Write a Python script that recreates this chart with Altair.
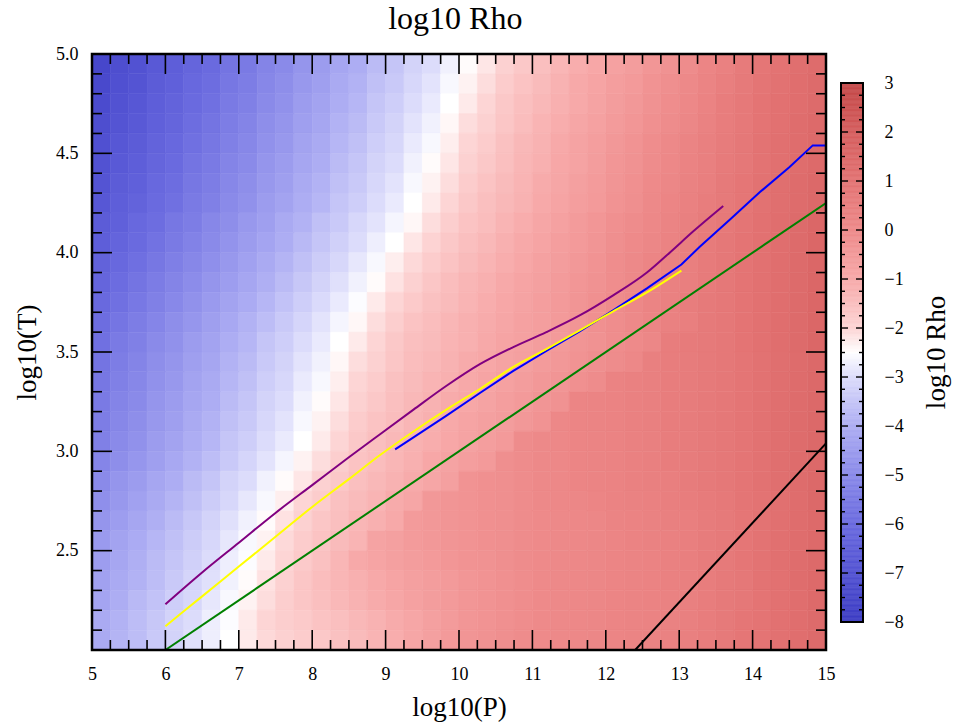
import altair as alt
import numpy as np
import pandas as pd

# ---------------------------------------------------------------------------
# log10 Rho on a (log10 P, log10 T) grid.
# Columns: log10(P) cells 0.25 wide, centred at 5.125 ... 14.875
# Rows: log10(T) cells 0.1 tall, one list per row centre (4.95 ... 2.05).
# ---------------------------------------------------------------------------
RHO_T495 = [-7.5, -7.2, -7.0, -6.7, -6.5, -6.2, -6.0, -5.7, -5.5, -5.2,
            -5.0, -4.7, -4.5, -4.2, -4.0, -3.7, -3.5, -3.2, -3.0, -2.7,
            -2.45, -2.2, -1.9, -1.7, -1.5, -1.3, -1.1, -0.95, -0.75, -0.6,
            -0.4, -0.25, -0.05, 0.2, 0.4, 0.65, 0.85, 1.0, 1.2, 1.35]
RHO_T485 = [-7.4, -7.1, -6.9, -6.6, -6.4, -6.1, -5.9, -5.6, -5.4, -5.1,
            -4.9, -4.6, -4.4, -4.1, -3.9, -3.6, -3.4, -3.1, -2.9, -2.6,
            -2.35, -2.1, -1.8, -1.6, -1.4, -1.2, -1.0, -0.85, -0.65, -0.5,
            -0.3, -0.15, 0.05, 0.25, 0.5, 0.7, 0.9, 1.05, 1.25, 1.4]
RHO_T475 = [-7.3, -7.0, -6.8, -6.5, -6.3, -6.0, -5.8, -5.5, -5.3, -5.0,
            -4.8, -4.5, -4.3, -4.0, -3.8, -3.5, -3.3, -3.0, -2.8, -2.5,
            -2.25, -2.0, -1.7, -1.5, -1.35, -1.15, -1.0, -0.8, -0.6, -0.45,
            -0.25, -0.1, 0.1, 0.3, 0.55, 0.75, 0.95, 1.1, 1.25, 1.4]
RHO_T465 = [-7.2, -6.9, -6.7, -6.4, -6.2, -5.9, -5.7, -5.4, -5.2, -4.9,
            -4.7, -4.4, -4.2, -3.9, -3.7, -3.4, -3.2, -2.9, -2.7, -2.4,
            -2.1, -1.9, -1.65, -1.45, -1.25, -1.1, -0.9, -0.75, -0.55, -0.4,
            -0.2, -0.05, 0.15, 0.35, 0.55, 0.75, 0.95, 1.1, 1.3, 1.45]
RHO_T455 = [-7.1, -6.8, -6.6, -6.3, -6.1, -5.8, -5.6, -5.3, -5.1, -4.8,
            -4.6, -4.3, -4.1, -3.8, -3.6, -3.3, -3.1, -2.8, -2.6, -2.3,
            -2.0, -1.8, -1.55, -1.35, -1.2, -1.0, -0.8, -0.65, -0.45, -0.3,
            -0.1, 0.05, 0.25, 0.45, 0.6, 0.8, 1.0, 1.15, 1.3, 1.45]
RHO_T445 = [-7.0, -6.7, -6.5, -6.2, -6.0, -5.7, -5.5, -5.2, -5.0, -4.7,
            -4.5, -4.2, -4.0, -3.7, -3.5, -3.2, -3.0, -2.7, -2.45, -2.2,
            -1.9, -1.7, -1.5, -1.3, -1.15, -0.95, -0.8, -0.6, -0.4, -0.25,
            -0.05, 0.1, 0.3, 0.45, 0.65, 0.8, 1.0, 1.15, 1.3, 1.45]
RHO_T435 = [-6.9, -6.6, -6.4, -6.1, -5.9, -5.6, -5.4, -5.1, -4.9, -4.6,
            -4.4, -4.1, -3.9, -3.6, -3.4, -3.1, -2.9, -2.6, -2.35, -2.1,
            -1.8, -1.6, -1.4, -1.25, -1.05, -0.9, -0.7, -0.55, -0.35, -0.2,
            0.0, 0.15, 0.35, 0.5, 0.7, 0.85, 1.05, 1.2, 1.35, 1.5]
RHO_T425 = [-6.8, -6.5, -6.3, -6.0, -5.8, -5.5, -5.3, -5.0, -4.8, -4.5,
            -4.3, -4.0, -3.8, -3.5, -3.3, -3.0, -2.8, -2.5, -2.25, -2.0,
            -1.7, -1.5, -1.35, -1.2, -1.0, -0.85, -0.65, -0.5, -0.3, -0.15,
            0.05, 0.2, 0.4, 0.55, 0.7, 0.85, 1.05, 1.2, 1.35, 1.5]
RHO_T415 = [-6.6, -6.4, -6.1, -5.9, -5.6, -5.4, -5.1, -4.9, -4.6, -4.4,
            -4.1, -3.9, -3.6, -3.4, -3.1, -2.9, -2.65, -2.4, -2.1, -1.85,
            -1.6, -1.45, -1.25, -1.1, -0.9, -0.75, -0.55, -0.4, -0.2, -0.05,
            0.1, 0.25, 0.45, 0.6, 0.75, 0.9, 1.1, 1.25, 1.4, 1.55]
RHO_T405 = [-6.5, -6.25, -6.0, -5.75, -5.5, -5.25, -5.0, -4.75, -4.5, -4.25,
            -4.0, -3.75, -3.5, -3.25, -3.0, -2.75, -2.5, -2.2, -1.95, -1.7,
            -1.5, -1.35, -1.15, -1.0, -0.85, -0.65, -0.5, -0.35, -0.15, 0.0,
            0.15, 0.3, 0.5, 0.65, 0.8, 0.95, 1.1, 1.25, 1.4, 1.55]
RHO_T395 = [-6.35, -6.1, -5.85, -5.6, -5.35, -5.1, -4.85, -4.6, -4.35, -4.1,
            -3.85, -3.6, -3.35, -3.1, -2.85, -2.6, -2.3, -2.05, -1.8, -1.6,
            -1.4, -1.25, -1.1, -0.95, -0.75, -0.6, -0.45, -0.3, -0.1, 0.05,
            0.2, 0.35, 0.5, 0.65, 0.8, 0.95, 1.1, 1.25, 1.4, 1.55]
RHO_T385 = [-6.2, -5.95, -5.7, -5.45, -5.2, -4.95, -4.7, -4.45, -4.2, -3.95,
            -3.7, -3.45, -3.2, -2.95, -2.7, -2.45, -2.15, -1.9, -1.65, -1.45,
            -1.3, -1.15, -1.0, -0.85, -0.7, -0.55, -0.4, -0.25, -0.1, 0.05,
            0.25, 0.4, 0.5, 0.65, 0.8, 0.95, 1.1, 1.25, 1.4, 1.55]
RHO_T375 = [-6.05, -5.8, -5.55, -5.3, -5.05, -4.8, -4.55, -4.3, -4.05, -3.8,
            -3.55, -3.3, -3.05, -2.8, -2.55, -2.25, -2.0, -1.75, -1.55, -1.4,
            -1.25, -1.1, -0.95, -0.8, -0.65, -0.5, -0.35, -0.2, -0.05, 0.1,
            0.25, 0.4, 0.55, 0.7, 0.8, 0.95, 1.1, 1.25, 1.4, 1.55]
RHO_T365 = [-5.9, -5.65, -5.4, -5.15, -4.9, -4.65, -4.4, -4.15, -3.9, -3.65,
            -3.4, -3.15, -2.9, -2.65, -2.4, -2.1, -1.85, -1.6, -1.45, -1.3,
            -1.15, -1.05, -0.9, -0.75, -0.65, -0.5, -0.35, -0.2, -0.1, 0.05,
            0.2, 0.4, 0.5, 0.7, 0.8, 0.95, 1.1, 1.25, 1.4, 1.55]
RHO_T355 = [-5.8, -5.5, -5.3, -5.0, -4.8, -4.5, -4.3, -4.0, -3.8, -3.5,
            -3.3, -3.0, -2.8, -2.5, -2.25, -2.0, -1.7, -1.5, -1.4, -1.25,
            -1.15, -1.0, -0.85, -0.75, -0.6, -0.5, -0.35, -0.25, -0.1, 0.0,
            0.15, 0.55, 0.65, 0.7, 0.8, 0.95, 1.1, 1.25, 1.4, 1.55]
RHO_T345 = [-5.7, -5.4, -5.2, -4.9, -4.7, -4.4, -4.2, -3.9, -3.7, -3.4,
            -3.2, -2.9, -2.7, -2.4, -2.1, -1.9, -1.65, -1.45, -1.35, -1.2,
            -1.05, -0.95, -0.8, -0.7, -0.55, -0.45, -0.3, -0.15, -0.05, 0.1,
            0.45, 0.55, 0.6, 0.7, 0.8, 0.9, 1.05, 1.2, 1.35, 1.5]
RHO_T335 = [-5.6, -5.3, -5.1, -4.8, -4.6, -4.3, -4.1, -3.8, -3.6, -3.3,
            -3.1, -2.8, -2.6, -2.3, -2.0, -1.8, -1.55, -1.4, -1.25, -1.15,
            -1.0, -0.85, -0.75, -0.6, -0.45, -0.35, -0.2, -0.05, 0.3, 0.4,
            0.45, 0.55, 0.6, 0.7, 0.8, 0.9, 1.05, 1.2, 1.35, 1.5]
RHO_T325 = [-5.5, -5.2, -5.0, -4.7, -4.5, -4.2, -4.0, -3.7, -3.5, -3.2,
            -3.0, -2.7, -2.45, -2.2, -1.9, -1.7, -1.5, -1.35, -1.2, -1.05,
            -0.95, -0.8, -0.65, -0.5, -0.35, -0.25, 0.2, 0.25, 0.3, 0.4,
            0.45, 0.55, 0.6, 0.7, 0.8, 0.9, 1.05, 1.2, 1.35, 1.5]
RHO_T315 = [-5.4, -5.1, -4.9, -4.6, -4.4, -4.1, -3.9, -3.6, -3.4, -3.1,
            -2.9, -2.6, -2.35, -2.1, -1.8, -1.6, -1.45, -1.3, -1.15, -1.0,
            -0.85, -0.7, -0.6, -0.45, -0.3, 0.1, 0.2, 0.25, 0.3, 0.4,
            0.45, 0.55, 0.6, 0.7, 0.8, 0.9, 1.05, 1.2, 1.35, 1.5]
RHO_T305 = [-5.3, -5.0, -4.8, -4.5, -4.3, -4.0, -3.8, -3.5, -3.3, -3.0,
            -2.8, -2.5, -2.25, -2.0, -1.7, -1.5, -1.35, -1.2, -1.1, -0.95,
            -0.8, -0.65, -0.5, -0.05, 0.05, 0.1, 0.2, 0.25, 0.3, 0.4,
            0.45, 0.55, 0.6, 0.7, 0.8, 0.9, 1.05, 1.2, 1.35, 1.5]
RHO_T295 = [-5.15, -4.9, -4.65, -4.4, -4.15, -3.9, -3.65, -3.4, -3.15, -2.9,
            -2.65, -2.35, -2.1, -1.85, -1.6, -1.45, -1.3, -1.15, -0.95, -0.8,
            -0.65, -0.5, -0.15, -0.05, 0.05, 0.1, 0.2, 0.25, 0.3, 0.4,
            0.45, 0.55, 0.6, 0.7, 0.8, 0.9, 1.05, 1.2, 1.35, 1.5]
RHO_T285 = [-5.0, -4.7, -4.5, -4.2, -4.0, -3.7, -3.5, -3.2, -3.0, -2.7,
            -2.45, -2.2, -1.9, -1.7, -1.5, -1.35, -1.2, -1.05, -0.9, -0.7,
            -0.3, -0.2, -0.15, -0.05, 0.05, 0.1, 0.2, 0.25, 0.3, 0.4,
            0.45, 0.5, 0.6, 0.7, 0.8, 0.9, 1.05, 1.2, 1.35, 1.5]
RHO_T275 = [-4.85, -4.6, -4.35, -4.1, -3.85, -3.6, -3.35, -3.1, -2.85, -2.6,
            -2.3, -2.0, -1.8, -1.55, -1.4, -1.25, -1.05, -0.9, -0.45, -0.35,
            -0.3, -0.2, -0.15, -0.05, 0.05, 0.1, 0.15, 0.2, 0.3, 0.35,
            0.4, 0.5, 0.55, 0.65, 0.75, 0.9, 1.0, 1.15, 1.3, 1.5]
RHO_T265 = [-4.7, -4.45, -4.2, -3.95, -3.7, -3.45, -3.2, -2.95, -2.7, -2.45,
            -2.15, -1.9, -1.65, -1.5, -1.3, -1.15, -1.0, -0.55, -0.45, -0.35,
            -0.3, -0.2, -0.15, -0.05, 0.0, 0.05, 0.1, 0.15, 0.25, 0.3,
            0.35, 0.45, 0.5, 0.6, 0.7, 0.85, 1.0, 1.15, 1.3, 1.45]
RHO_T255 = [-4.55, -4.3, -4.05, -3.8, -3.6, -3.35, -3.1, -2.85, -2.6, -2.35,
            -2.05, -1.8, -1.6, -1.4, -1.25, -0.8, -0.7, -0.55, -0.45, -0.35,
            -0.3, -0.2, -0.15, -0.05, 0.0, 0.05, 0.1, 0.15, 0.2, 0.3,
            0.35, 0.4, 0.5, 0.6, 0.7, 0.85, 1.0, 1.15, 1.3, 1.45]
RHO_T245 = [-4.45, -4.2, -3.95, -3.7, -3.5, -3.25, -3.0, -2.75, -2.55, -2.25,
            -2.0, -1.75, -1.55, -1.3, -1.0, -0.85, -0.7, -0.6, -0.5, -0.4,
            -0.3, -0.25, -0.15, -0.05, 0.0, 0.05, 0.1, 0.15, 0.2, 0.25,
            0.3, 0.4, 0.5, 0.6, 0.7, 0.85, 1.0, 1.15, 1.3, 1.45]
RHO_T235 = [-4.35, -4.1, -3.9, -3.65, -3.4, -3.15, -2.95, -2.7, -2.45, -2.15,
            -1.9, -1.65, -1.45, -1.3, -1.15, -1.0, -0.85, -0.7, -0.6, -0.5,
            -0.4, -0.3, -0.2, -0.1, 0.0, 0.05, 0.1, 0.15, 0.2, 0.25,
            0.3, 0.4, 0.45, 0.55, 0.7, 0.8, 1.0, 1.1, 1.3, 1.45]
RHO_T225 = [-4.25, -4.0, -3.75, -3.55, -3.3, -3.1, -2.85, -2.6, -2.35, -2.1,
            -1.85, -1.65, -1.5, -1.35, -1.2, -1.05, -0.9, -0.75, -0.6, -0.5,
            -0.4, -0.3, -0.2, -0.1, 0.0, 0.05, 0.1, 0.15, 0.2, 0.25,
            0.3, 0.35, 0.45, 0.55, 0.7, 0.8, 0.95, 1.1, 1.25, 1.45]
RHO_T215 = [-4.1, -3.9, -3.65, -3.45, -3.2, -3.0, -2.75, -2.55, -2.25, -2.0,
            -1.85, -1.75, -1.6, -1.5, -1.35, -1.2, -1.05, -0.9, -0.7, -0.55,
            -0.4, -0.3, -0.2, -0.1, 0.0, 0.05, 0.1, 0.15, 0.2, 0.25,
            0.3, 0.35, 0.45, 0.55, 0.7, 0.85, 0.95, 1.1, 1.25, 1.4]
RHO_T205 = [-4.1, -3.85, -3.65, -3.4, -3.2, -2.95, -2.75, -2.5, -2.25, -2.05,
            -1.9, -1.8, -1.7, -1.55, -1.4, -1.25, -1.1, -0.9, -0.7, -0.5,
            -0.35, -0.25, -0.15, -0.05, 0.0, 0.05, 0.1, 0.15, 0.2, 0.25,
            0.3, 0.35, 0.45, 0.55, 0.7, 0.85, 0.95, 1.1, 1.25, 1.4]

LOGT_ROWS = [4.95, 4.85, 4.75, 4.65, 4.55, 4.45, 4.35, 4.25, 4.15, 4.05,
             3.95, 3.85, 3.75, 3.65, 3.55, 3.45, 3.35, 3.25, 3.15, 3.05,
             2.95, 2.85, 2.75, 2.65, 2.55, 2.45, 2.35, 2.25, 2.15, 2.05]
RHO_ROWS = [RHO_T495, RHO_T485, RHO_T475, RHO_T465, RHO_T455, RHO_T445, RHO_T435,
            RHO_T425, RHO_T415, RHO_T405, RHO_T395, RHO_T385, RHO_T375, RHO_T365,
            RHO_T355, RHO_T345, RHO_T335, RHO_T325, RHO_T315, RHO_T305, RHO_T295,
            RHO_T285, RHO_T275, RHO_T265, RHO_T255, RHO_T245, RHO_T235, RHO_T225,
            RHO_T215, RHO_T205]
LOGP_CELL = 0.25
LOGT_CELL = 0.1

# Tracks drawn over the map (log10 P, log10 T)
PURPLE_P = [6.0, 6.5, 7.0, 7.5, 8.0, 8.5, 8.92, 9.38, 9.83, 10.29, 10.74, 11.19,
            11.65, 12.10, 12.56, 12.87, 13.2, 13.6]
PURPLE_T = [2.23, 2.39, 2.54, 2.69, 2.83, 2.97, 3.085, 3.21, 3.33, 3.44, 3.525, 3.60,
            3.685, 3.785, 3.90, 4.0, 4.11, 4.235]
YELLOW_P = [6.0, 6.5, 7.0, 7.5, 8.0, 8.5, 8.92, 9.38, 9.83, 10.29, 10.74, 11.19,
            11.65, 12.10, 12.56, 13.03]
YELLOW_T = [2.12, 2.27, 2.42, 2.57, 2.72, 2.86, 2.98, 3.10, 3.21, 3.315, 3.425, 3.515,
            3.61, 3.705, 3.80, 3.91]
BLUE_P = [9.13, 9.38, 9.83, 10.29, 10.74, 11.19, 11.65, 12.10, 12.56, 13.03, 13.28,
          13.7, 14.1, 14.5, 14.82, 15.0]
BLUE_T = [3.01, 3.07, 3.18, 3.295, 3.405, 3.505, 3.605, 3.71, 3.82, 3.94, 4.03,
          4.17, 4.305, 4.43, 4.54, 4.54]
GREEN_P = [6.0, 15.0]
GREEN_T = [2.0, 4.25]
BLACK_P = [12.4, 15.0]
BLACK_T = [2.0, 3.04]

# Colour map: log10 Rho stop -> colour
RHO_STOPS = [-8, -7, -6, -5, -4, -3, -2.5, -2, -1, 0, 1, 2, 3]
RHO_COLOURS = ["#3c3cc3", "#5252d2", "#6a6adf", "#8a8ae9", "#adadf3", "#dcdcfb",
               "#ffffff", "#fdd5d5", "#f7a9a9", "#ee8a8a", "#e37373", "#d55e5e",
               "#c44848"]

X_MAJOR = list(range(5, 16))
Y_MAJOR = [2.0, 2.5, 3.0, 3.5, 4.0, 4.5, 5.0]
Y_LABELS = [2.5, 3.0, 3.5, 4.0, 4.5, 5.0]
CB_LABELS = list(range(-8, 4))

FONT = "Liberation Serif"
W, H = 734, 596
CB_W = 22

# ---------------------------------------------------------------------------
logp_centres = 5.0 + LOGP_CELL / 2 + LOGP_CELL * np.arange(len(RHO_T495))
cells = []
for t_mid, row in zip(LOGT_ROWS, RHO_ROWS):
    for p_mid, v in zip(logp_centres, row):
        cells.append({"p0": p_mid - LOGP_CELL / 2, "p1": p_mid + LOGP_CELL / 2,
                      "t0": t_mid - LOGT_CELL / 2, "t1": t_mid + LOGT_CELL / 2,
                      "rho": v})
heat_df = pd.DataFrame(cells)

xs = alt.Scale(domain=[5, 15], nice=False, zero=False)
ys = alt.Scale(domain=[2.0, 5.0], nice=False, zero=False)
cscale = alt.Scale(domain=RHO_STOPS, range=RHO_COLOURS, interpolate="rgb", clamp=True)

x_axis = alt.Axis(values=X_MAJOR, format="d", ticks=False, tickSize=0, domain=False,
                  grid=False, labelPadding=15, labelFlush=False, labelOverlap=False,
                  titlePadding=11)
y_axis = alt.Axis(values=Y_LABELS, format=".1f", ticks=False, tickSize=0, domain=False,
                  grid=False, labelPadding=14, labelFlush=False, labelOverlap=False,
                  titlePadding=14)


def xq(field):
    return alt.X(field, type="quantitative", scale=xs, axis=x_axis, title="log10(P)")


def yq(field):
    return alt.Y(field, type="quantitative", scale=ys, axis=y_axis, title="log10(T)")


heat = alt.Chart(heat_df).mark_rect(strokeWidth=0.6).encode(
    x=xq("p0"), x2="p1:Q",
    y=yq("t0"), y2="t1:Q",
    color=alt.Color("rho:Q", scale=cscale, legend=None),
    stroke=alt.Stroke("rho:Q", scale=cscale, legend=None),
)


def track(ps, ts, colour, smooth=True):
    df = pd.DataFrame({"p": ps, "t": ts, "k": range(len(ps))})
    mark = alt.MarkDef(type="line", color=colour, strokeWidth=2, clip=True,
                       interpolate="monotone" if smooth else "linear")
    return alt.Chart(df, mark=mark).encode(x=xq("p"), y=yq("t"), order="k:Q")


def x_ticks(vals, y0, y1):
    return alt.Chart(pd.DataFrame({"v": vals})).mark_rule(
        color="black", strokeWidth=1.6).encode(
        x=xq("v"), y=alt.value(y0), y2=alt.value(y1))


def y_ticks(vals, x0, x1):
    return alt.Chart(pd.DataFrame({"v": vals})).mark_rule(
        color="black", strokeWidth=1.6).encode(
        y=yq("v"), x=alt.value(x0), x2=alt.value(x1))


x_minor = [round(v, 2) for v in np.arange(5.0, 15.001, 0.25) if abs(v - round(v)) > 1e-6]
y_minor = [round(v, 1) for v in np.arange(2.0, 5.001, 0.1)
           if abs(v * 2 - round(v * 2)) > 1e-6]

frame = alt.Chart(pd.DataFrame({"a": [0]})).mark_rect(
    fill="transparent", stroke="black", strokeWidth=2.5).encode(
    x=alt.value(0), x2=alt.value(W), y=alt.value(0), y2=alt.value(H))

main = alt.layer(
    heat,
    track(GREEN_P, GREEN_T, "#008000", smooth=False),
    track(BLACK_P, BLACK_T, "#000000", smooth=False),
    track(BLUE_P, BLUE_T, "#0000ff", smooth=False),
    track(YELLOW_P, YELLOW_T, "#ffff00"),
    track(PURPLE_P, PURPLE_T, "#800080"),
    x_ticks(X_MAJOR, H, H - 20), x_ticks(x_minor, H, H - 10),
    x_ticks(X_MAJOR, 0, 20), x_ticks(x_minor, 0, 10),
    y_ticks(Y_MAJOR, 0, 20), y_ticks(y_minor, 0, 10),
    y_ticks(Y_MAJOR, W, W - 20), y_ticks(y_minor, W, W - 10),
    frame,
).properties(width=W, height=H)

# ---------------------------------------------------------------------------
# Colour bar
cb_step = 0.025
cb_lo = np.round(np.arange(-8.0, 3.0, cb_step), 4)
ramp_df = pd.DataFrame({"lo": cb_lo, "hi": cb_lo + cb_step, "mid": cb_lo + cb_step / 2})
cys = alt.Scale(domain=[-8.571, 3.592], nice=False, zero=False)
cb_axis = alt.Axis(orient="right", values=CB_LABELS, format="d", ticks=False, tickSize=0,
                   domain=False, grid=False, labelPadding=21, labelFlush=False,
                   labelOverlap=False, titleAngle=270, titleX=73, titleY=H / 2,
                   titleAlign="center", titleBaseline="middle")


def cq(field):
    return alt.Y(field, type="quantitative", scale=cys, axis=cb_axis, title="log10 Rho")


ramp = alt.Chart(ramp_df).mark_rect(strokeWidth=0.6).encode(
    y=cq("lo"), y2="hi:Q",
    x=alt.value(0), x2=alt.value(CB_W),
    color=alt.Color("mid:Q", scale=cscale, legend=None),
    stroke=alt.Stroke("mid:Q", scale=cscale, legend=None),
)

cb_minor = [round(v, 2) for v in np.arange(-8.0, 3.001, 0.25) if abs(v - round(v)) > 1e-6]


def cb_ticks(vals, x0, x1):
    return alt.Chart(pd.DataFrame({"v": vals})).mark_rule(
        color="black", strokeWidth=1.4).encode(
        y=cq("v"), x=alt.value(x0), x2=alt.value(x1))


cb_frame = alt.Chart(pd.DataFrame({"lo": [-8], "hi": [3]})).mark_rect(
    fill="transparent", stroke="black", strokeWidth=2).encode(
    y=cq("lo"), y2="hi:Q", x=alt.value(0), x2=alt.value(CB_W))

cbar = alt.layer(
    ramp,
    cb_ticks(CB_LABELS, 0, 7), cb_ticks(cb_minor, 0, 4),
    cb_ticks(CB_LABELS, CB_W, CB_W - 7), cb_ticks(cb_minor, CB_W, CB_W - 4),
    cb_frame,
).properties(width=CB_W, height=H)

chart = alt.hconcat(main, cbar, spacing=3).properties(
    title=alt.TitleParams("log10 Rho", font=FONT, fontSize=32, fontWeight="normal",
                          color="black", anchor="middle", dx=-26, offset=9),
    padding={"left": 13, "top": 2, "right": 2, "bottom": 2},
).configure_axis(
    labelFont=FONT, labelFontSize=18, labelColor="black",
    titleFont=FONT, titleFontSize=27, titleFontWeight="normal", titleColor="black",
).configure_view(stroke="transparent")

chart.save("out.html", embed_options={"renderer": "svg", "actions": False})
